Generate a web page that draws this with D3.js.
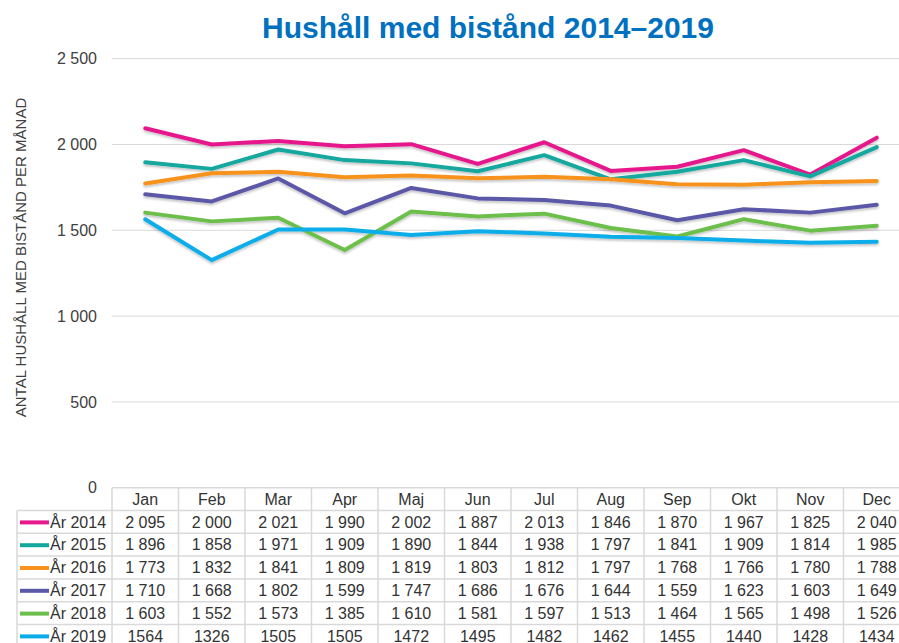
<!DOCTYPE html>
<html>
<head>
<meta charset="utf-8">
<script src="https://cdn.jsdelivr.net/npm/d3@7"></script>
<style>
  html, body { margin: 0; padding: 0; background: #fff; }
  svg { display: block; font-family: Arial, "Liberation Sans", sans-serif; }
</style>
</head>
<body>
<div id="chart"></div>
<script>
// Data
const months = ["Jan", "Feb", "Mar", "Apr", "Maj", "Jun", "Jul", "Aug", "Sep", "Okt", "Nov", "Dec"];
const years = ["År 2014", "År 2015", "År 2016", "År 2017", "År 2018", "År 2019"];
const v2014 = [2095, 2000, 2021, 1990, 2002, 1887, 2013, 1846, 1870, 1967, 1825, 2040];
const v2015 = [1896, 1858, 1971, 1909, 1890, 1844, 1938, 1797, 1841, 1909, 1814, 1985];
const v2016 = [1773, 1832, 1841, 1809, 1819, 1803, 1812, 1797, 1768, 1766, 1780, 1788];
const v2017 = [1710, 1668, 1802, 1599, 1747, 1686, 1676, 1644, 1559, 1623, 1603, 1649];
const v2018 = [1603, 1552, 1573, 1385, 1610, 1581, 1597, 1513, 1464, 1565, 1498, 1526];
const v2019 = [1564, 1326, 1505, 1505, 1472, 1495, 1482, 1462, 1455, 1440, 1428, 1434];
// the 2019 row in the table is printed without thousands separator
const grouped = [true, true, true, true, true, false];
const yTicks = [0, 500, 1000, 1500, 2000, 2500];

const colors = ["#e6198c", "#13a89e", "#f7931e", "#5c58a8", "#6dbf4b", "#0bade9"];
const values = [v2014, v2015, v2016, v2017, v2018, v2019];

const width = 899, height = 643;
const plot = { left: 112, right: 910, top: 58.7, bottom: 487.7 };
const rowH = 22.8;

const sv = d3.formatLocale({ decimal: ",", thousands: "\u00a0", grouping: [3], currency: ["", " kr"] });
const fmtGroup = sv.format(",d");
const fmtPlain = d3.format("d");

const x = d3.scaleBand().domain(months).range([plot.left, plot.right]);
const cx = m => x(m) + x.bandwidth() / 2;
const y = d3.scaleLinear().domain([0, 2500]).range([plot.bottom, plot.top]);

const svg = d3.select("#chart").append("svg")
  .attr("width", width)
  .attr("height", height);

const defs = svg.append("defs");
defs.append("filter")
  .attr("id", "shadow")
  .attr("x", "-5%").attr("y", "-20%").attr("width", "110%").attr("height", "160%")
  .append("feDropShadow")
  .attr("dx", 0).attr("dy", 2)
  .attr("stdDeviation", 1.2)
  .attr("flood-color", "#000")
  .attr("flood-opacity", 0.22);

// title
svg.append("text")
  .attr("x", 488)
  .attr("y", 37.5)
  .attr("text-anchor", "middle")
  .attr("fill", "#0070c0")
  .style("font-size", "30px")
  .style("font-weight", "bold")
  .text("Hushåll med bistånd 2014–2019");

// y axis title
svg.append("text")
  .attr("transform", "rotate(-90)")
  .attr("x", -257.5)
  .attr("y", 26)
  .attr("text-anchor", "middle")
  .attr("fill", "#404040")
  .style("font-size", "15px")
  .text("ANTAL HUSHÅLL MED BISTÅND PER MÅNAD");

// gridlines
svg.append("g")
  .selectAll("line")
  .data(yTicks.filter(d => d > 0))
  .join("line")
  .attr("x1", plot.left)
  .attr("x2", plot.right)
  .attr("y1", d => y(d))
  .attr("y2", d => y(d))
  .attr("stroke", "#d9d9d9")
  .attr("stroke-width", 1);

// y axis labels
const yAxis = d3.axisLeft(y)
  .tickValues(yTicks)
  .tickFormat(fmtGroup)
  .tickSize(0)
  .tickPadding(0);

svg.append("g")
  .attr("transform", `translate(97,0)`)
  .call(yAxis)
  .call(g => g.select(".domain").remove())
  .call(g => g.selectAll("text")
    .attr("fill", "#404040")
    .style("font-size", "16px")
    .style("font-family", "Arial, 'Liberation Sans', sans-serif"));

// lines
const line = d3.line()
  .x((d, i) => cx(months[i]))
  .y(d => y(d));

svg.append("g")
  .attr("filter", "url(#shadow)")
  .selectAll("path")
  .data(values)
  .join("path")
  .attr("d", line)
  .attr("fill", "none")
  .attr("stroke", (d, i) => colors[i])
  .attr("stroke-width", 4)
  .attr("stroke-linejoin", "round")
  .attr("stroke-linecap", "round");

// data table
const table = svg.append("g");
const tableTop = plot.bottom;
const gridColor = "#d9d9d9";

// horizontal borders
table.append("line")
  .attr("x1", plot.left).attr("x2", plot.right)
  .attr("y1", tableTop).attr("y2", tableTop)
  .attr("stroke", gridColor).attr("stroke-width", 1.5);

table.selectAll("line.row")
  .data(d3.range(1, years.length + 1))
  .join("line")
  .attr("class", "row")
  .attr("x1", 17).attr("x2", plot.right)
  .attr("y1", d => tableTop + d * rowH)
  .attr("y2", d => tableTop + d * rowH)
  .attr("stroke", gridColor).attr("stroke-width", 1.5);

// vertical borders
table.selectAll("line.col")
  .data(months)
  .join("line")
  .attr("class", "col")
  .attr("x1", d => x(d)).attr("x2", d => x(d))
  .attr("y1", tableTop).attr("y2", height)
  .attr("stroke", gridColor).attr("stroke-width", 1.5);

table.append("line")
  .attr("x1", 17).attr("x2", 17)
  .attr("y1", tableTop + rowH).attr("y2", height)
  .attr("stroke", gridColor).attr("stroke-width", 1.5);

// month header
table.selectAll("text.month")
  .data(months)
  .join("text")
  .attr("class", "month")
  .attr("x", d => cx(d))
  .attr("y", tableTop + 17)
  .attr("text-anchor", "middle")
  .attr("fill", "#333")
  .style("font-size", "16px")
  .text(d => d);

// rows
const rows = table.selectAll("g.series")
  .data(years)
  .join("g")
  .attr("class", "series")
  .attr("transform", (d, i) => `translate(0, ${tableTop + (i + 1) * rowH})`);

rows.append("line")
  .attr("x1", 20).attr("x2", 49)
  .attr("y1", rowH / 2 + 0.5).attr("y2", rowH / 2 + 0.5)
  .attr("stroke", (d, i) => colors[i])
  .attr("stroke-width", 4);

rows.append("text")
  .attr("x", 50)
  .attr("y", 17)
  .attr("fill", "#333")
  .style("font-size", "16px")
  .text(d => d);

rows.each(function (name, i) {
  const fmt = grouped[i] ? fmtGroup : fmtPlain;
  d3.select(this).selectAll("text.val")
    .data(values[i])
    .join("text")
    .attr("class", "val")
    .attr("x", (d, j) => cx(months[j]))
    .attr("y", 17)
    .attr("text-anchor", "middle")
    .attr("fill", "#333")
    .style("font-size", "16px")
    .text(d => fmt(d));
});
</script>
</body>
</html>
